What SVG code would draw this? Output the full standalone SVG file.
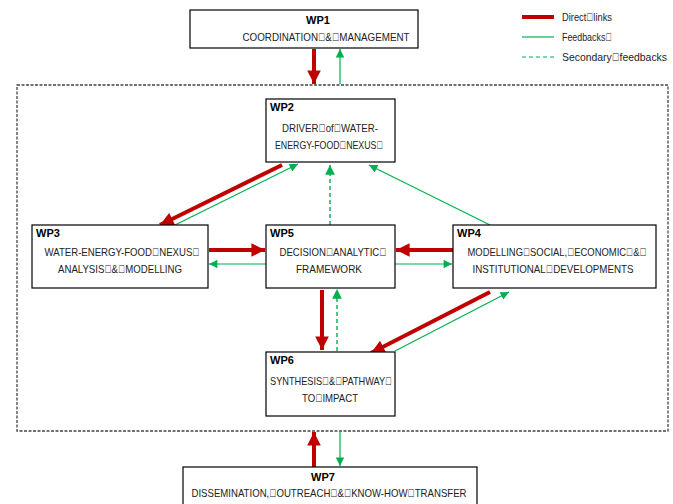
<svg xmlns="http://www.w3.org/2000/svg" width="673" height="504" viewBox="0 0 673 504">
<defs>
<style>
.box{fill:#fff;stroke:#000;stroke-width:1.2}
.t{font-family:"Liberation Sans","Open Sans",sans-serif;font-size:10.5px;fill:#222;text-anchor:middle}
.h{font-family:"Liberation Sans","Open Sans",sans-serif;font-size:11px;font-weight:bold;fill:#000}
.lg{font-family:"Liberation Sans","Open Sans",sans-serif;font-size:10.5px;fill:#222}
.red{stroke:#c00000;stroke-width:4;fill:none;marker-end:url(#ar)}
.grn{stroke:#00b050;stroke-width:1.2;fill:none;marker-end:url(#ag)}
.gd{stroke:#00b050;stroke-width:1.4;fill:none;stroke-dasharray:4 3;marker-end:url(#ag)}
</style>
<marker id="ar" viewBox="0 0 10 10" refX="10" refY="5" markerWidth="3.6" markerHeight="3.4" orient="auto" markerUnits="strokeWidth"><path d="M0,0L10,5L0,10z" fill="#c00000"/></marker>
<marker id="ag" viewBox="0 0 10 10" refX="10" refY="5" markerWidth="8" markerHeight="7" orient="auto" markerUnits="strokeWidth"><path d="M0,0L10,5L0,10z" fill="#00b050"/></marker>
</defs>
<rect width="673" height="504" fill="#fff"/>
<rect x="17" y="85" width="651" height="346" fill="none" stroke="#444" stroke-width="1.3" stroke-dasharray="3 1.5"/>
<g id="legend">
<line x1="522" y1="17" x2="554" y2="17" stroke="#c00000" stroke-width="4"/>
<text class="lg" x="562" y="21" textLength="50" lengthAdjust="spacingAndGlyphs">Direct&#xF020;links</text>
<line x1="522" y1="37" x2="554" y2="37" stroke="#00b050" stroke-width="1.2"/>
<text class="lg" x="562" y="41" textLength="50" lengthAdjust="spacingAndGlyphs">Feedbacks&#xF020;</text>
<line x1="522" y1="57" x2="554" y2="57" stroke="#00b050" stroke-width="1.2" stroke-dasharray="4 3"/>
<text class="lg" x="562" y="61" textLength="105" lengthAdjust="spacingAndGlyphs">Secondary&#xF020;feedbacks</text>
</g>
<g id="connectors">
<line class="red" x1="314" y1="49" x2="314" y2="84"/>
<line class="grn" x1="340" y1="84" x2="340" y2="49"/>
<line class="red" x1="282" y1="165" x2="160" y2="225"/>
<line class="grn" x1="175" y1="225" x2="298" y2="164"/>
<line class="gd" x1="330" y1="225" x2="330" y2="165"/>
<line class="grn" x1="490" y1="225" x2="369" y2="165"/>
<line class="red" x1="209" y1="250" x2="265" y2="250"/>
<line class="grn" x1="266" y1="264" x2="209" y2="264"/>
<line class="red" x1="453" y1="250" x2="396" y2="250"/>
<line class="grn" x1="395" y1="264" x2="452" y2="264"/>
<line class="red" x1="322" y1="290" x2="322" y2="350"/>
<line class="gd" x1="337" y1="351" x2="337" y2="289"/>
<line class="red" x1="490" y1="292" x2="371" y2="353"/>
<line class="grn" x1="395" y1="351" x2="509" y2="292"/>
<line class="red" x1="314" y1="467" x2="314" y2="432"/>
<line class="grn" x1="340" y1="432" x2="340" y2="466"/>
</g>
<g id="wp1">
<rect class="box" x="190" y="10" width="228" height="38"/>
<text class="h" x="318" y="24" text-anchor="middle">WP1</text>
<text class="t" x="326" y="41" textLength="167" lengthAdjust="spacingAndGlyphs">COORDINATION&#xF020;&amp;&#xF020;MANAGEMENT</text>
</g>
<g id="wp2">
<rect class="box" x="266" y="99" width="129" height="63"/>
<text class="h" x="270" y="111">WP2</text>
<text class="t" x="330" y="132" textLength="96" lengthAdjust="spacingAndGlyphs">DRIVER&#xF020;of&#xF020;WATER-</text>
<text class="t" x="329" y="149" textLength="108" lengthAdjust="spacingAndGlyphs">ENERGY-FOOD&#xF020;NEXUS&#xF020;</text>
</g>
<g id="wp3">
<rect class="box" x="32" y="225" width="176" height="63"/>
<text class="h" x="36" y="237">WP3</text>
<text class="t" x="122" y="256" textLength="155" lengthAdjust="spacingAndGlyphs">WATER-ENERGY-FOOD&#xF020;NEXUS&#xF020;</text>
<text class="t" x="120" y="273" textLength="124" lengthAdjust="spacingAndGlyphs">ANALYSIS&#xF020;&amp;&#xF020;MODELLING</text>
</g>
<g id="wp5">
<rect class="box" x="266" y="225" width="129" height="63"/>
<text class="h" x="270" y="237">WP5</text>
<text class="t" x="333" y="256" textLength="107" lengthAdjust="spacingAndGlyphs">DECISION&#xF020;ANALYTIC&#xF020;</text>
<text class="t" x="329" y="273" textLength="66" lengthAdjust="spacingAndGlyphs">FRAMEWORK</text>
</g>
<g id="wp4">
<rect class="box" x="453" y="225" width="203" height="63"/>
<text class="h" x="457" y="237">WP4</text>
<text class="t" x="557" y="256" textLength="179" lengthAdjust="spacingAndGlyphs">MODELLING&#xF020;SOCIAL,&#xF020;ECONOMIC&#xF020;&amp;&#xF020;</text>
<text class="t" x="553" y="273" textLength="161" lengthAdjust="spacingAndGlyphs">INSTITUTIONAL&#xF020;DEVELOPMENTS</text>
</g>
<g id="wp6">
<rect class="box" x="266" y="352" width="129" height="64"/>
<text class="h" x="270" y="364">WP6</text>
<text class="t" x="331" y="385" textLength="122" lengthAdjust="spacingAndGlyphs">SYNTHESIS&#xF020;&amp;&#xF020;PATHWAY&#xF020;</text>
<text class="t" x="330" y="402" textLength="56" lengthAdjust="spacingAndGlyphs">TO&#xF020;IMPACT</text>
</g>
<g id="wp7">
<rect class="box" x="183" y="467" width="294" height="42"/>
<text class="h" x="323" y="481" text-anchor="middle">WP7</text>
<text class="t" x="329" y="497" textLength="275" lengthAdjust="spacingAndGlyphs">DISSEMINATION,&#xF020;OUTREACH&#xF020;&amp;&#xF020;KNOW-HOW&#xF020;TRANSFER</text>
</g>
</svg>
